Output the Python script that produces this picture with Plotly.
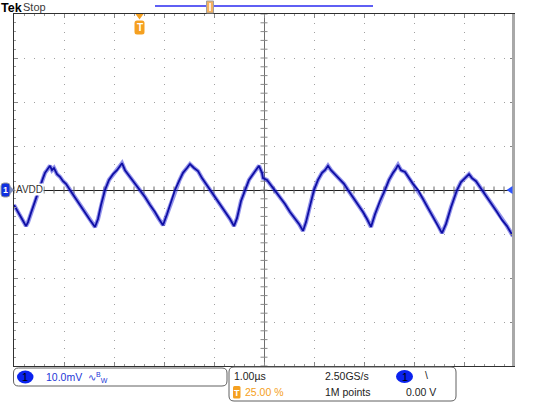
import numpy as np
import plotly.graph_objects as go

# ---------------- data (read from the screen capture) ----------------
# time in microseconds (1.00 us/div, centre = 0), voltage in mV (10.0 mV/div)
time_us = [
    -5.00, -4.94, -4.88, -4.82, -4.76, -4.72, -4.66, -4.60, -4.56, -4.52,
    -4.48, -4.42, -4.38, -4.34, -4.28, -4.24, -4.20, -4.14, -4.08, -4.02,
    -3.96, -3.88, -3.80, -3.72, -3.64, -3.56, -3.48, -3.38, -3.32, -3.26,
    -3.18, -3.10, -3.02, -2.94, -2.88, -2.84, -2.78, -2.72, -2.66, -2.58,
    -2.48, -2.38, -2.28, -2.18, -2.10, -2.02, -1.94, -1.86, -1.78, -1.70,
    -1.62, -1.54, -1.48, -1.40, -1.32, -1.24, -1.16, -1.08, -0.98, -0.88,
    -0.78, -0.68, -0.60, -0.54, -0.46, -0.38, -0.30, -0.22, -0.16, -0.10,
    -0.04, -0.02, 0.06, 0.14, 0.22, 0.32, 0.42, 0.52, 0.62, 0.70,
    0.78, 0.84, 0.92, 1.00, 1.08, 1.16, 1.22, 1.28, 1.34, 1.42,
    1.50, 1.60, 1.68, 1.78, 1.88, 1.98, 2.06, 2.14, 2.22, 2.32,
    2.42, 2.50, 2.58, 2.64, 2.68, 2.74, 2.82, 2.90, 2.98, 3.08,
    3.18, 3.28, 3.38, 3.48, 3.56, 3.64, 3.74, 3.86, 3.94, 4.02,
    4.10, 4.16, 4.24, 4.36, 4.46, 4.56, 4.66, 4.76, 4.86, 4.98,
]
avdd_mV = [
    -3.4, -4.5, -5.9, -7.0, -8.2, -7.3, -5.2, -3.2, -1.8, -0.5,
    1.1, 2.7, 3.9, 4.5, 5.5, 4.5, 5.0, 3.6, 3.0, 2.0,
    1.4, 0.0, -1.4, -2.7, -4.1, -5.5, -6.8, -8.4, -6.6, -3.4,
    0.0, 2.3, 3.6, 4.5, 5.5, 6.1, 4.5, 3.6, 2.7, 1.4,
    0.0, -1.6, -3.4, -5.0, -6.6, -8.0, -5.5, -2.7, 0.0, 2.0,
    3.9, 5.0, 5.9, 5.0, 4.3, 2.7, 1.4, 0.0, -1.6, -3.2,
    -4.8, -6.6, -8.2, -6.4, -2.5, 0.0, 2.3, 3.6, 4.5, 5.5,
    3.9, 2.7, 2.3, 1.1, 0.0, -1.6, -3.2, -5.0, -6.4, -7.7,
    -9.3, -7.3, -3.6, 0.0, 2.3, 3.9, 4.5, 5.5, 4.5, 3.6,
    2.7, 1.4, 0.0, -1.6, -3.4, -5.0, -6.6, -8.4, -5.5, -2.5,
    0.0, 2.3, 3.9, 4.8, 5.7, 4.5, 4.1, 2.7, 1.4, 0.0,
    -2.0, -4.1, -5.9, -8.0, -9.8, -7.7, -3.9, 0.0, 1.8, 2.7,
    3.6, 2.7, 2.0, 0.0, -1.6, -3.2, -5.0, -6.8, -8.2, -10.5,
]

channel_label = "AVDD"
volts_per_div = "10.0mV"
time_per_div = "1.00µs"
sample_rate = "2.50GS/s"
record_length = "1M points"
trigger_pos = "25.00 %"
trigger_level = "0.00 V"

# ---------------- geometry helpers (pixels -> paper) ----------------
W, H = 533, 420
def px(x): return x / W
def py(y): return 1 - y / H

FONT = "Liberation Sans, Arial, sans-serif"
BLUE_TRACE = "#0e0ea4"
ORANGE = "#f5a020"
TS = 10.5  # readout text size

def rrect(x0, y0, x1, y1, r):
    p = [
        f"M {px(x0+r)},{py(y0)}", f"L {px(x1-r)},{py(y0)}",
        f"Q {px(x1)},{py(y0)} {px(x1)},{py(y0+r)}", f"L {px(x1)},{py(y1-r)}",
        f"Q {px(x1)},{py(y1)} {px(x1-r)},{py(y1)}", f"L {px(x0+r)},{py(y1)}",
        f"Q {px(x0)},{py(y1)} {px(x0)},{py(y1-r)}", f"L {px(x0)},{py(y0+r)}",
        f"Q {px(x0)},{py(y0)} {px(x0+r)},{py(y0)}", "Z",
    ]
    return " ".join(p)

def poly(points):
    s = " ".join(("M " if i == 0 else "L ") + f"{px(x)},{py(y)}" for i, (x, y) in enumerate(points))
    return s + " Z"

fig = go.Figure()

# graticule centre-line tick marks (derived from the axis divisions)
minor_x = np.round(np.arange(-5, 5.001, 0.2), 3)
minor_y = np.round(np.arange(-40, 40.001, 2), 3)
fig.add_trace(go.Scatter(x=minor_x, y=np.zeros_like(minor_x), mode="markers",
                         marker=dict(symbol="line-ns", size=5, line=dict(color="#666", width=1)),
                         hoverinfo="skip", showlegend=False))
fig.add_trace(go.Scatter(x=np.zeros_like(minor_y), y=minor_y, mode="markers",
                         marker=dict(symbol="line-ew", size=5, line=dict(color="#888", width=1)),
                         hoverinfo="skip", showlegend=False))

# waveform: halo + core line to mimic the noisy trace
fig.add_trace(go.Scatter(x=time_us, y=avdd_mV, mode="lines",
                         line=dict(color="rgba(40,40,215,0.5)", width=4.2),
                         hoverinfo="skip", showlegend=False))
fig.add_trace(go.Scatter(x=time_us, y=avdd_mV, mode="lines",
                         line=dict(color=BLUE_TRACE, width=1.8),
                         showlegend=False))

shapes = []
shapes.append(dict(type="rect", xref="paper", yref="paper",
                   x0=px(512), x1=px(515), y0=py(366), y1=py(14),
                   fillcolor="#a8a8a8", line=dict(width=0), layer="above"))
shapes.append(dict(type="line", xref="paper", yref="paper",
                   x0=px(155), x1=px(373), y0=py(6), y1=py(6),
                   line=dict(color="#2a2af0", width=1.5)))
shapes.append(dict(type="rect", xref="paper", yref="paper",
                   x0=px(206.5), x1=px(213.5), y0=py(13), y1=py(1),
                   fillcolor="#f3b060", line=dict(color="#a0a0a0", width=1)))
shapes.append(dict(type="line", xref="paper", yref="paper",
                   x0=px(210), x1=px(210), y0=py(11), y1=py(3),
                   line=dict(color="#ffffff", width=1.5)))
shapes.append(dict(type="path", xref="paper", yref="paper",
                   path=poly([(135.5, 14), (143.5, 14), (139.5, 19.5)]),
                   fillcolor=ORANGE, line=dict(width=0), layer="above"))
shapes.append(dict(type="path", xref="paper", yref="paper",
                   path=rrect(134.5, 20.5, 144.5, 34.5, 2.5),
                   fillcolor=ORANGE, line=dict(width=0), layer="above"))
shapes.append(dict(type="path", xref="paper", yref="paper",
                   path=rrect(1, 183, 10, 197, 3),
                   fillcolor="#1030e0", line=dict(color="#9a9a9a", width=1), layer="above"))
shapes.append(dict(type="path", xref="paper", yref="paper",
                   path=poly([(10, 186), (14, 190), (10, 194)]),
                   fillcolor="#8090c0", line=dict(width=0), layer="above"))
shapes.append(dict(type="path", xref="paper", yref="paper",
                   path=poly([(506.5, 190), (512.5, 186), (512.5, 194)]),
                   fillcolor="#2f55ff", line=dict(width=0), layer="above"))
shapes.append(dict(type="path", xref="paper", yref="paper",
                   path=rrect(13.5, 368, 227, 386, 5),
                   fillcolor="white", line=dict(color="#606060", width=1)))
shapes.append(dict(type="path", xref="paper", yref="paper",
                   path=rrect(229, 367, 456, 401, 5),
                   fillcolor="white", line=dict(color="#606060", width=1)))
shapes.append(dict(type="circle", xref="paper", yref="paper",
                   x0=px(17), x1=px(33.5), y0=py(383.5), y1=py(370.5),
                   fillcolor="#0a22ee", line=dict(width=0)))
shapes.append(dict(type="circle", xref="paper", yref="paper",
                   x0=px(396), x1=px(413), y0=py(383), y1=py(370),
                   fillcolor="#0a22ee", line=dict(width=0)))
shapes.append(dict(type="path", xref="paper", yref="paper",
                   path=rrect(233, 386, 240.5, 398.5, 1.5),
                   fillcolor=ORANGE, line=dict(width=0)))

ann = []
def text(x, y, s, color="#222", size=TS, anchor="left", bold=False, bg=None):
    d = dict(xref="paper", yref="paper", x=px(x), y=py(y), text=(f"<b>{s}</b>" if bold else s),
             showarrow=False, xanchor=anchor, yanchor="middle",
             font=dict(family=FONT, size=size, color=color), borderpad=0)
    if bg:
        d["bgcolor"] = bg
    ann.append(d)

text(-0.5, 7.5, "Tek", color="#000", size=12.5, bold=True)
text(21.5, 7.3, "Stop", color="#3a3a3a", size=11)
text(139.5, 27.8, "T", color="#ffffff", size=10, anchor="center", bold=True)
text(5.5, 190, "1", color="#ffffff", size=9, anchor="center", bold=True)
text(15, 190, channel_label, color="#333", size=10, bg="white")
text(25.3, 377, "1", color="#000", size=11, anchor="center")
text(45, 377, volts_per_div, color="#2236d8", size=TS)
text(87, 377, "∿<sup>B</sup><sub>W</sub>", color="#2236d8", size=10)
text(233, 376, time_per_div)
text(236.8, 392.5, "T", color="#ffffff", size=9, anchor="center", bold=True)
text(244, 392, trigger_pos, color=ORANGE)
text(324, 376, sample_rate)
text(324, 392, record_length)
text(404.5, 376.5, "1", color="#000", size=11, anchor="center")
text(424, 375, "\\")
text(405, 392, trigger_level)

fig.update_layout(
    width=W, height=H, margin=dict(l=0, r=0, t=0, b=0, pad=0),
    paper_bgcolor="white", plot_bgcolor="white",
    shapes=shapes, annotations=ann, showlegend=False,
    xaxis=dict(domain=[px(14), px(514)], range=[-5, 5], dtick=1, showticklabels=False,
               showgrid=True, gridcolor="#a0a0a0", gridwidth=1, griddash="1px,7.8px",
               zeroline=True, zerolinecolor="#6e6e6e", zerolinewidth=1.2,
               showline=True, linecolor="#303030", linewidth=1.2, mirror="ticks",
               ticks="inside", ticklen=4, tickcolor="#888",
               minor=dict(dtick=0.2, ticks="inside", ticklen=2, tickcolor="#999", showgrid=False),
               fixedrange=True),
    yaxis=dict(domain=[py(366), py(14)], range=[-40, 40], dtick=10, showticklabels=False,
               showgrid=True, gridcolor="#a0a0a0", gridwidth=1, griddash="1px,9px",
               zeroline=True, zerolinecolor="#1e1e1e", zerolinewidth=1.3,
               showline=True, linecolor="#303030", linewidth=1.2, mirror="ticks",
               ticks="inside", ticklen=4, tickcolor="#888",
               minor=dict(dtick=2, ticks="inside", ticklen=2, tickcolor="#999", showgrid=False),
               fixedrange=True),
)

fig.write_html("out.html", config={"displayModeBar": False},
               post_script="document.body.style.margin='0';document.body.style.overflow='hidden';")
